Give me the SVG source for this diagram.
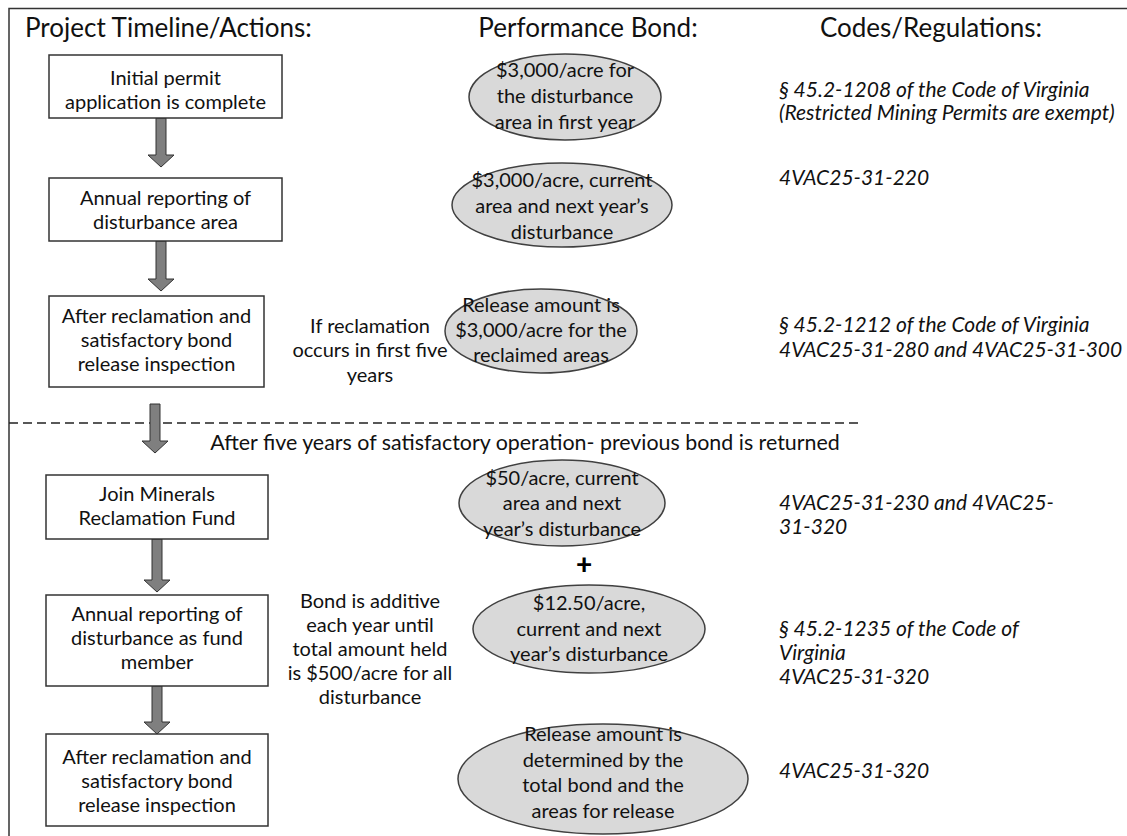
<svg xmlns="http://www.w3.org/2000/svg" width="1127" height="836" viewBox="0 0 1127 836">
<style>
.t{font-family:Lato,"Open Sans",sans-serif;font-size:20px;fill:#111;text-anchor:middle}
.h{font-family:Lato,"Open Sans",sans-serif;font-size:26px;fill:#111}
.c{font-family:Lato,"Open Sans",sans-serif;font-size:21px;font-style:italic;fill:#111}
.box{fill:#fff;stroke:#333;stroke-width:1.5}
.ell{fill:#d9d9d9;stroke:#404040;stroke-width:1.5}
.arr{fill:#7f7f7f;stroke:#333;stroke-width:1}
</style>
<rect width="1127" height="836" fill="#fff"/>
<path d="M9 836V8.5H1127" fill="none" stroke="#333" stroke-width="1.5"/>
<g id="headers">
<text class="h" x="25" y="37">Project Timeline/Actions:</text>
<text class="h" x="588" y="37" text-anchor="middle">Performance Bond:</text>
<text class="h" x="931" y="37" text-anchor="middle">Codes/Regulations:</text>
</g>
<g id="connectors">
<path d="M9 423H860" stroke="#222" stroke-width="1.5" stroke-dasharray="9 5"/>
<path class="arr" d="M156 118V155H148L161 167L174 155H166V118Z"/>
<path class="arr" d="M156 241V279H148L161 291L174 279H166V241Z"/>
<path class="arr" d="M150 404V441H142L155 453L168 441H160V404Z"/>
<path class="arr" d="M152 539V580H144L157 592L170 580H162V539Z"/>
<path class="arr" d="M152 686V722H144L157 734L170 722H162V686Z"/>
</g>
<g id="box1"><rect class="box" x="49" y="55" width="233" height="63"/>
<text class="t"><tspan x="165.5" y="85">Initial permit</tspan><tspan x="165.5" y="109">application is complete</tspan></text></g>
<g id="box2"><rect class="box" x="49" y="178" width="233" height="63"/>
<text class="t"><tspan x="165.5" y="205">Annual reporting of</tspan><tspan x="165.5" y="229">disturbance area</tspan></text></g>
<g id="box3"><rect class="box" x="49" y="296" width="215" height="91"/>
<text class="t"><tspan x="156.5" y="323">After reclamation and</tspan><tspan x="156.5" y="347">satisfactory bond</tspan><tspan x="156.5" y="371">release inspection</tspan></text></g>
<g id="box4"><rect class="box" x="46" y="475" width="222" height="64"/>
<text class="t"><tspan x="157" y="501">Join Minerals</tspan><tspan x="157" y="525">Reclamation Fund</tspan></text></g>
<g id="box5"><rect class="box" x="46" y="595" width="222" height="91"/>
<text class="t"><tspan x="157" y="621">Annual reporting of</tspan><tspan x="157" y="645">disturbance as fund</tspan><tspan x="157" y="669">member</tspan></text></g>
<g id="box6"><rect class="box" x="46" y="734" width="222" height="92"/>
<text class="t"><tspan x="157" y="764">After reclamation and</tspan><tspan x="157" y="788">satisfactory bond</tspan><tspan x="157" y="812">release inspection</tspan></text></g>
<g id="note1"><text class="t"><tspan x="370" y="333">If reclamation</tspan><tspan x="370" y="357">occurs in first five</tspan><tspan x="370" y="382">years</tspan></text></g>
<g id="note2"><text class="t"><tspan x="370" y="608">Bond is additive</tspan><tspan x="370" y="632">each year until</tspan><tspan x="370" y="656">total amount held</tspan><tspan x="370" y="680">is $500/acre for all</tspan><tspan x="370" y="704">disturbance</tspan></text></g>
<g id="note3"><text class="t" x="525" y="450" style="font-size:21.4px">After five years of satisfactory operation- previous bond is returned</text></g>
<g id="ell1"><ellipse class="ell" cx="565" cy="97" rx="96" ry="43"/>
<text class="t"><tspan x="565" y="77">$3,000/acre for</tspan><tspan x="565" y="103">the disturbance</tspan><tspan x="565" y="129">area in first year</tspan></text></g>
<g id="ell2"><ellipse class="ell" cx="562" cy="205" rx="110" ry="42"/>
<text class="t"><tspan x="562" y="187">$3,000/acre, current</tspan><tspan x="562" y="213">area and next year’s</tspan><tspan x="562" y="239">disturbance</tspan></text></g>
<g id="ell3"><ellipse class="ell" cx="541" cy="331" rx="96" ry="42"/>
<text class="t"><tspan x="541" y="312">Release amount is</tspan><tspan x="541" y="337">$3,000/acre for the</tspan><tspan x="541" y="362">reclaimed areas</tspan></text></g>
<g id="ell4"><ellipse class="ell" cx="562" cy="503" rx="103" ry="43"/>
<text class="t"><tspan x="562" y="485">$50/acre, current</tspan><tspan x="562" y="510">area and next</tspan><tspan x="562" y="536">year’s disturbance</tspan></text></g>
<g id="plus"><text x="584" y="574" style="font-family:Lato,sans-serif;font-size:28px;font-weight:900;text-anchor:middle;fill:#000">+</text></g>
<g id="ell5"><ellipse class="ell" cx="589" cy="629" rx="116" ry="44"/>
<text class="t"><tspan x="589" y="610">$12.50/acre,</tspan><tspan x="589" y="636">current and next</tspan><tspan x="589" y="661">year’s disturbance</tspan></text></g>
<g id="ell6"><ellipse class="ell" cx="603" cy="779" rx="145" ry="55"/>
<text class="t"><tspan x="603" y="741">Release amount is</tspan><tspan x="603" y="767">determined by the</tspan><tspan x="603" y="792">total bond and the</tspan><tspan x="603" y="818">areas for release</tspan></text></g>
<g id="codes">
<text class="c"><tspan x="779" y="97">§ 45.2-1208 of the Code of Virginia</tspan><tspan x="779" y="120">(Restricted Mining Permits are exempt)</tspan></text>
<text class="c" x="779" y="185">4VAC25-31-220</text>
<text class="c"><tspan x="779" y="332">§ 45.2-1212 of the Code of Virginia</tspan><tspan x="779" y="357">4VAC25-31-280 and 4VAC25-31-300</tspan></text>
<text class="c"><tspan x="779" y="510">4VAC25-31-230 and 4VAC25-</tspan><tspan x="779" y="534">31-320</tspan></text>
<text class="c"><tspan x="779" y="636">§ 45.2-1235 of the Code of</tspan><tspan x="779" y="660">Virginia</tspan><tspan x="779" y="684">4VAC25-31-320</tspan></text>
<text class="c" x="779" y="778">4VAC25-31-320</text>
</g>
</svg>
